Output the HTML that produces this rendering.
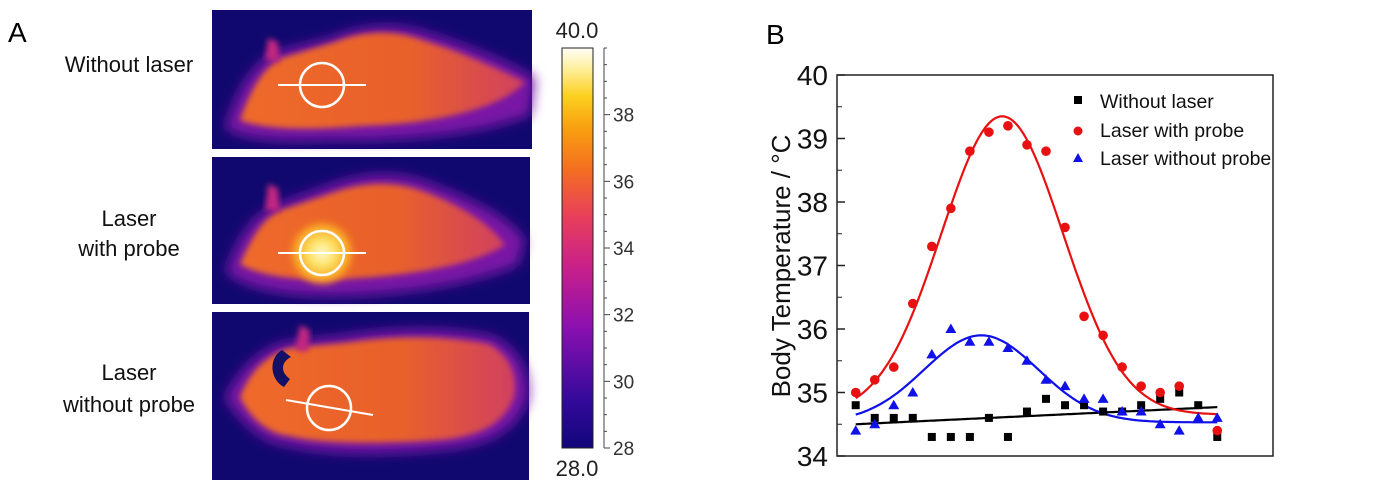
<!DOCTYPE html>
<html><head><meta charset="utf-8"><style>
html,body{margin:0;padding:0;background:#fff;}
svg{display:block;font-family:"Liberation Sans",Arial,sans-serif;}
</style></head><body>
<svg id="fig" width="1375" height="500" viewBox="0 0 1375 500">
<defs>
<filter id="blur" x="-20%" y="-20%" width="140%" height="140%"><feGaussianBlur stdDeviation="6"/></filter>
<filter id="blur2" x="-20%" y="-20%" width="140%" height="140%"><feGaussianBlur stdDeviation="3"/></filter>
<linearGradient id="cbar" x1="0" y1="1" x2="0" y2="0">
<stop offset="0" stop-color="#12067a"/><stop offset="0.12" stop-color="#330a9a"/><stop offset="0.3" stop-color="#8a10b0"/><stop offset="0.45" stop-color="#c8208a"/><stop offset="0.58" stop-color="#e8405a"/><stop offset="0.7" stop-color="#f47020"/><stop offset="0.8" stop-color="#f8a010"/><stop offset="0.88" stop-color="#fcd020"/><stop offset="0.95" stop-color="#fff0a0"/><stop offset="1" stop-color="#fffef8"/>
</linearGradient>
<linearGradient id="body" x1="0" y1="0" x2="1" y2="0">
<stop offset="0" stop-color="#ee6a2a"/><stop offset="0.6" stop-color="#e8602c"/><stop offset="1" stop-color="#d04060"/>
</linearGradient>
<radialGradient id="hot"><stop offset="0" stop-color="#fffbd0"/><stop offset="0.4" stop-color="#fde060"/><stop offset="0.8" stop-color="#f8a020"/><stop offset="1" stop-color="#f58020" stop-opacity="0"/></radialGradient>
</defs>
<text x="8" y="42" font-size="28">A</text>
<text x="766" y="44" font-size="28">B</text>

<g font-size="22" text-anchor="middle" fill="#111">
<text x="129" y="72">Without laser</text>
<text x="129" y="226"><tspan x="129">Laser</tspan><tspan x="129" dy="30">with probe</tspan></text>
<text x="129" y="380"><tspan x="129">Laser</tspan><tspan x="129" dy="32">without probe</tspan></text>
</g>

<!-- panel 1 -->
<g>
<rect x="212" y="10" width="320" height="139" fill="#10086e"/>
<path d="M225,128 C235,95 250,65 275,52 L330,38 C360,25 395,22 425,32 C470,45 515,65 535,78 L530,115 C480,135 400,142 330,140 C290,142 245,142 225,128 Z" fill="#7a12a6" filter="url(#blur)"/>
<path d="M240,120 C250,92 262,68 282,58 L335,42 C365,30 395,30 422,40 C462,52 500,70 525,82 C500,110 430,124 360,126 C310,130 265,130 240,120 Z" fill="url(#body)" filter="url(#blur2)"/>
<path d="M265,60 L268,38 L278,42 L280,62 Z" fill="#c02880" filter="url(#blur2)"/>
<circle cx="322" cy="85" r="22" fill="none" stroke="#fff" stroke-width="2.5"/>
<line x1="278" y1="85" x2="366" y2="85" stroke="#fff" stroke-width="2"/>
</g>
<!-- panel 2 -->
<g>
<rect x="212" y="157" width="318" height="147" fill="#10086e"/>
<path d="M226,272 C236,240 252,215 275,205 L330,185 C370,170 405,172 435,185 C475,200 510,218 525,240 L518,265 C470,285 400,296 330,296 C290,296 245,290 226,272 Z" fill="#7a12a6" filter="url(#blur)"/>
<path d="M240,264 C252,238 262,218 282,210 L335,192 C370,180 402,182 430,194 C465,208 492,226 505,245 C475,264 420,274 360,278 C310,282 262,278 240,264 Z" fill="url(#body)" filter="url(#blur2)"/>
<path d="M265,210 L268,184 L278,188 L280,212 Z" fill="#c02880" filter="url(#blur2)"/>
<circle cx="322" cy="253" r="34" fill="url(#hot)" filter="url(#blur2)"/>
<circle cx="322" cy="253" r="22" fill="none" stroke="#fff" stroke-width="2.5"/>
<line x1="278" y1="253" x2="366" y2="253" stroke="#fff" stroke-width="2"/>
</g>
<!-- panel 3 -->
<g>
<rect x="212" y="312" width="317" height="168" fill="#10086e"/>
<path d="M225,398 C238,370 258,350 285,342 L340,336 C390,328 440,326 492,336 C518,348 530,370 528,398 C518,430 490,446 440,450 C380,456 320,454 290,446 C262,444 242,424 225,398 Z" fill="#7a12a6" filter="url(#blur)"/>
<path d="M240,397 C250,372 265,356 290,348 L345,343 C392,336 440,335 488,344 C510,355 518,375 514,397 C504,424 480,436 440,440 C380,444 320,444 290,436 C268,434 250,418 240,397 Z" fill="url(#body)" filter="url(#blur2)"/>
<path d="M295,350 L300,325 L310,330 L308,352 Z" fill="#c02880" filter="url(#blur2)"/>
<path d="M282,350 C268,358 270,380 284,387 L290,379 C280,372 281,362 291,357 Z" fill="#141066"/>
<circle cx="329" cy="408" r="22" fill="none" stroke="#fff" stroke-width="2.5"/>
<line x1="286" y1="400" x2="373" y2="415" stroke="#fff" stroke-width="2"/>
</g>

<!-- colorbar -->
<g>
<rect x="562" y="48" width="31" height="400" fill="url(#cbar)" stroke="#222" stroke-width="1"/>
<text x="577" y="38" font-size="22" text-anchor="middle" fill="#222">40.0</text>
<text x="577" y="476" font-size="22" text-anchor="middle" fill="#222">28.0</text>
<line x1="604" y1="48" x2="604" y2="448" stroke="#444" stroke-width="1"/>
<g id="cbticks" font-size="19" fill="#333"></g>
</g>

<!-- chart -->
<g id="chart">
<rect x="837" y="75" width="436" height="381" fill="none" stroke="#222" stroke-width="1.5"/>
<g id="yaxis" font-size="28" fill="#111" text-anchor="end"></g>
<text transform="translate(790,266) rotate(-90)" font-size="26" text-anchor="middle" fill="#111">Body Temperature / °C</text>
<g id="fits"></g>
<g id="marks"></g>
<g font-size="19.5" fill="#111">
<rect x="1074" y="96" width="8" height="8" fill="#000"/>
<text x="1100" y="108">Without laser</text>
<circle cx="1078" cy="131" r="4.5" fill="#e81010"/>
<text x="1100" y="137">Laser with probe</text>
<polygon points="1078,153 1083,162 1073,162" fill="#1010e8"/>
<text x="1100" y="165">Laser without probe</text>
</g>
</g>
</svg>
<script>
const yTicks = [34, 35, 36, 37, 38, 39, 40];
const cbTicks = [28, 30, 32, 34, 36, 38];
const blackVals = [34.8,34.6,34.6,34.6,34.3,34.3,34.3,34.6,34.3,34.7,34.9,34.8,34.8,34.7,34.7,34.8,34.9,35.0,34.8,34.3];
const redVals = [35.0,35.2,35.4,36.4,37.3,37.9,38.8,39.1,39.2,38.9,38.8,37.6,36.2,35.9,35.4,35.1,35.0,35.1,null,34.4];
const blueVals = [34.4,34.5,34.8,35.0,35.6,36.0,35.8,35.8,35.7,35.5,35.2,35.1,34.9,34.9,34.7,34.7,34.5,34.4,34.6,34.6];
const redFit = {base:34.65, amp:4.7, center:7.7, sigma:3.2};
const blueFit = {base:34.53, amp:1.37, center:6.6, sigma:3.0};
const blackFit = {start:34.5, end:34.77};

const NS = "http://www.w3.org/2000/svg";
const X = i => 855.7 + 19.03 * i;
const Y = v => 456 - (v - 34) * 63.5;
const CY = v => 448 - (v - 28) * (400/12);
function mk(tag, attrs, parent){const e=document.createElementNS(NS,tag);for(const k in attrs)e.setAttribute(k,attrs[k]);parent.appendChild(e);return e;}

const ya = document.getElementById('yaxis');
yTicks.forEach(t=>{
  const y=Y(t);
  const l=mk('line',{x1:837,y1:y,x2:845,y2:y,stroke:'#222','stroke-width':1.5},ya);
  
  
  if(t<40){const m=mk('line',{x1:837,y1:Y(t+0.5),x2:842,y2:Y(t+0.5),stroke:'#222','stroke-width':1},ya);
  
  }
  const tx=mk('text',{x:828,y:y+10},ya);tx.textContent=t;
  
  
});

const cb = document.getElementById('cbticks');
for(let v=28; v<=40; v+=0.5){
  const major = cbTicks.includes(v);
  const l=mk('line',{x1:604,y1:CY(v),x2:major?610:607,y2:CY(v),stroke:'#444','stroke-width':1},cb);
  
  
}
cbTicks.forEach(t=>{
  const tx=mk('text',{x:613,y:CY(t)+7},cb);tx.textContent=t;
  
  
});

const fits=document.getElementById('fits');
function gauss(f,i){return f.base+f.amp*Math.exp(-Math.pow(i-f.center,2)/(2*f.sigma*f.sigma));}
function fitPath(fn){let d='';for(let k=0;k<=190;k++){const i=k/10;d+=(k?'L':'M')+X(i).toFixed(1)+','+Y(fn(i)).toFixed(1);}return d;}
const n=blackVals.length-1;
const bl=mk('path',{d:fitPath(i=>blackFit.start+(blackFit.end-blackFit.start)*i/n),fill:'none',stroke:'#000','stroke-width':2.2},fits);


const bu=mk('path',{d:fitPath(i=>gauss(blueFit,i)),fill:'none',stroke:'#1010e8','stroke-width':2.2},fits);


const rd=mk('path',{d:fitPath(i=>gauss(redFit,i)),fill:'none',stroke:'#e81010','stroke-width':2.2},fits);



const marks=document.getElementById('marks');
blackVals.forEach((v,i)=>{if(v==null)return;
  const r=mk('rect',{x:X(i)-4,y:Y(v)-4,width:8,height:8,fill:'#000'},marks);
  
  });
redVals.forEach((v,i)=>{if(v==null)return;
  const c=mk('circle',{cx:X(i),cy:Y(v),r:4.8,fill:'#e81010'},marks);
  
  });
blueVals.forEach((v,i)=>{if(v==null)return;
  const x=X(i),y=Y(v);
  const p=mk('polygon',{points:`${x},${y-5.5} ${x+5.5},${y+4} ${x-5.5},${y+4}`,fill:'#1010e8'},marks);
  
  });
</script>
</body></html>
